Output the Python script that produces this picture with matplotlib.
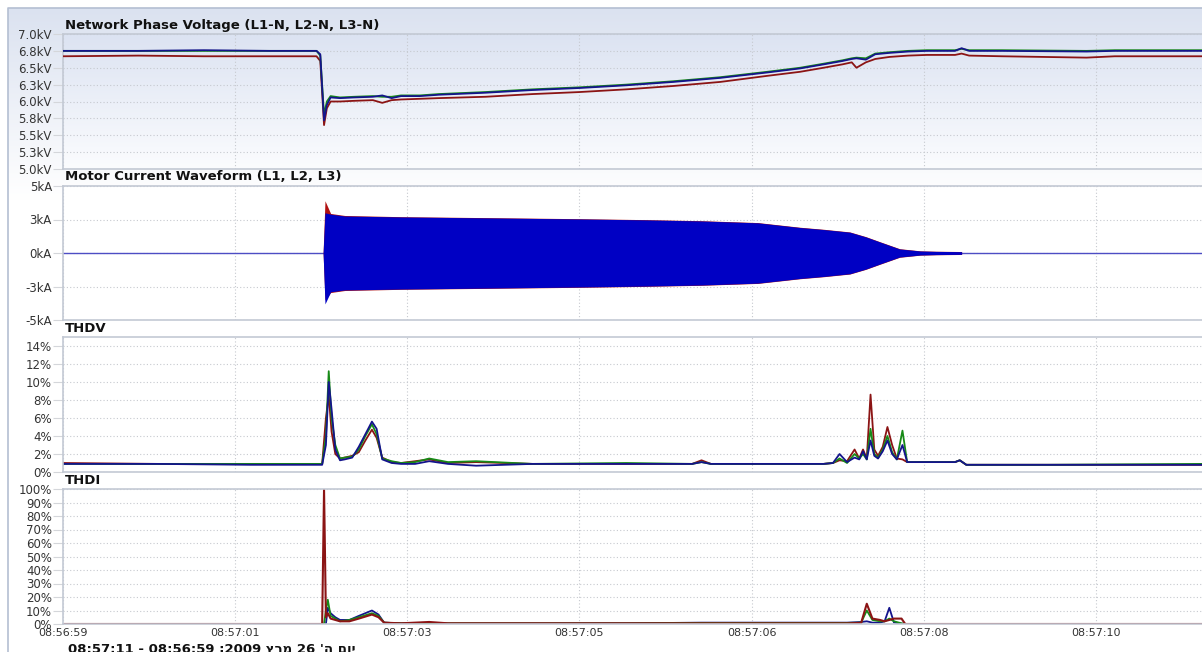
import numpy as np
import matplotlib.pyplot as plt
from matplotlib.colors import LinearSegmentedColormap

W, H = 1202, 652

# x axis: seconds after 08:56:59
time_labels = ['08:56:59', '08:57:01', '08:57:03', '08:57:05', '08:57:06', '08:57:08', '08:57:10']
caption = '08:57:11 - 08:56:59 ;2009 ץרמ 26 \'ה םוי'

# network phase voltage, kV
t_volt = [0.0, 0.8, 1.5, 2.2, 2.70, 2.74, 2.78, 2.81, 2.85, 2.95, 3.10, 3.30, 3.40, 3.50,
          3.60, 3.80, 4.00, 4.50, 5.00, 5.50, 6.00, 6.50, 7.00, 7.50, 7.85, 8.10, 8.30,
          8.40, 8.45, 8.55, 8.65, 8.80, 9.00, 9.20, 9.50, 9.57, 9.65, 10.0, 10.9, 11.2, 12.13]
volt_l1 = [6.67, 6.68, 6.67, 6.67, 6.67, 6.60, 5.65, 5.90, 6.00, 6.00, 6.01, 6.02, 5.98, 6.02,
           6.03, 6.04, 6.05, 6.07, 6.11, 6.14, 6.18, 6.23, 6.29, 6.38, 6.44, 6.50, 6.55,
           6.58, 6.50, 6.58, 6.63, 6.66, 6.68, 6.69, 6.69, 6.71, 6.68, 6.67, 6.65, 6.67, 6.67]
volt_l2 = [6.75, 6.75, 6.75, 6.75, 6.75, 6.68, 5.80, 6.00, 6.08, 6.06, 6.07, 6.08, 6.07, 6.07,
           6.09, 6.09, 6.11, 6.14, 6.18, 6.21, 6.25, 6.30, 6.36, 6.44, 6.50, 6.56, 6.61,
           6.64, 6.65, 6.64, 6.71, 6.73, 6.75, 6.76, 6.76, 6.78, 6.76, 6.76, 6.75, 6.76, 6.76]
volt_l3 = [6.75, 6.75, 6.76, 6.75, 6.75, 6.70, 5.72, 5.95, 6.06, 6.05, 6.06, 6.07, 6.09, 6.05,
           6.08, 6.08, 6.10, 6.13, 6.17, 6.20, 6.24, 6.29, 6.35, 6.43, 6.49, 6.55, 6.60,
           6.63, 6.64, 6.62, 6.70, 6.72, 6.74, 6.75, 6.75, 6.79, 6.75, 6.75, 6.74, 6.75, 6.75]
volt_ticks = [7.0, 6.75, 6.5, 6.25, 6.0, 5.75, 5.5, 5.25, 5.0]
volt_tick_labels = ['7.0kV', '6.8kV', '6.5kV', '6.3kV', '6.0kV', '5.8kV', '5.5kV', '5.3kV', '5.0kV']

# motor current waveform envelope, kA
t_env = [2.77, 2.79, 2.85, 3.0, 3.6, 4.5, 5.5, 6.2, 6.8, 7.4, 7.85, 8.1, 8.38, 8.55,
         8.7, 8.91, 9.13, 9.3, 9.57]
env_red_hi = [0.0, 3.9, 2.95, 2.8, 2.71, 2.64, 2.56, 2.49, 2.41, 2.27, 1.92, 1.77, 1.57,
              1.22, 0.84, 0.32, 0.16, 0.13, 0.11]
env_red_lo = [0.0, -3.5, -2.95, -2.8, -2.71, -2.64, -2.56, -2.49, -2.41, -2.27, -1.92,
              -1.77, -1.57, -1.22, -0.84, -0.32, -0.16, -0.13, -0.11]
env_blue_hi = [0.0, 3.0, 2.9, 2.76, 2.69, 2.62, 2.54, 2.47, 2.39, 2.25, 1.9, 1.75, 1.55,
               1.2, 0.82, 0.3, 0.15, 0.12, 0.10]
env_blue_lo = [0.0, -3.8, -2.9, -2.76, -2.69, -2.62, -2.54, -2.47, -2.39, -2.25, -1.9,
               -1.75, -1.55, -1.2, -0.82, -0.3, -0.15, -0.12, -0.10]
cur_ticks = [5, 2.5, 0, -2.5, -5]
cur_tick_labels = ['5kA', '3kA', '0kA', '-3kA', '-5kA']

# THDV, %
t_thdv = [0.00, 1.00, 2.00, 2.76, 2.80, 2.83, 2.86, 2.90, 2.95, 3.00, 3.08, 3.15, 3.22,
          3.29, 3.34, 3.40, 3.50, 3.60, 3.75, 3.90, 4.10, 4.40, 5.00, 6.00, 6.70, 6.80,
          6.90, 7.50, 8.10, 8.20, 8.27, 8.35, 8.43, 8.48, 8.52, 8.56, 8.60, 8.64, 8.68,
          8.73, 8.78, 8.83, 8.88, 8.94, 8.99, 9.10, 9.50, 9.55, 9.62, 10.50, 12.13]
thdv_l1 = [1.0, 0.9, 0.9, 0.9, 6.0, 8.5, 4.5, 2.0, 1.5, 1.6, 1.8, 2.2, 3.5, 4.7, 3.8, 1.6,
           1.1, 1.0, 1.2, 1.4, 1.0, 1.1, 0.9, 0.9, 0.9, 1.3, 0.9, 0.9, 0.9, 1.0, 1.3, 1.2,
           2.5, 1.5, 2.5, 1.5, 8.6, 2.5, 1.8, 2.8, 5.0, 3.0, 1.5, 1.4, 1.1, 1.1, 1.1, 1.3,
           0.8, 0.8, 0.8]
thdv_l2 = [0.9, 0.9, 0.9, 0.9, 4.0, 11.2, 6.0, 3.0, 1.5, 1.6, 1.7, 2.5, 4.0, 5.3, 4.2, 1.5,
           1.2, 1.0, 1.1, 1.5, 1.1, 1.2, 0.9, 1.0, 0.9, 1.1, 0.9, 0.9, 0.9, 1.0, 1.5, 1.0,
           2.0, 1.5, 2.0, 1.4, 4.8, 2.0, 1.6, 2.5, 4.0, 2.2, 1.4, 4.6, 1.1, 1.1, 1.1, 1.3,
           0.8, 0.8, 0.9]
thdv_l3 = [0.9, 0.9, 0.8, 0.8, 3.0, 10.0, 7.0, 2.5, 1.3, 1.4, 1.6, 2.8, 4.2, 5.6, 4.8, 1.4,
           1.0, 0.9, 0.9, 1.2, 0.9, 0.7, 0.9, 0.9, 0.9, 1.1, 0.9, 0.9, 0.9, 1.0, 2.0, 1.1,
           1.6, 1.4, 2.3, 1.4, 3.5, 1.8, 1.5, 2.3, 3.5, 2.0, 1.4, 3.0, 1.1, 1.1, 1.1, 1.3,
           0.8, 0.8, 0.8]

# THDI, %
t_thdi = [0.00, 2.76, 2.78, 2.80, 2.82, 2.85, 2.90, 2.95, 3.05, 3.15, 3.29, 3.36, 3.42,
          3.60, 3.90, 4.10, 6.00, 6.80, 8.35, 8.50, 8.56, 8.62, 8.70, 8.75, 8.80, 8.85,
          8.93, 8.97, 12.13]
thdi_l1 = [0, 0, 100, 5, 8, 4, 3, 2, 2, 4, 7, 5, 1, 0.5, 1.5, 0.5, 0.5, 0.5, 0.5, 0.8,
           15, 4, 3, 2, 3, 4, 4, 0, 0]
thdi_l2 = [0, 0, 0, 10, 18, 6, 4, 2, 3, 5, 8, 6, 1, 0.5, 0.5, 0.5, 0.5, 0.8, 0.8, 1.0,
           10, 3, 2, 2, 4, 2, 0.5, 0, 0]
thdi_l3 = [0, 0, 0, 0, 12, 8, 5, 3, 3, 6, 10, 7, 1, 0.5, 0.5, 0.3, 0.5, 1.0, 1.0, 1.5,
           2, 1, 1, 2, 12, 1, 0.3, 0, 0]

RED = '#8b1414'
GREEN = '#178a17'
BLUE = '#14148c'
GRID = '#c6c9cf'
FRAME = '#c3c9d4'


def px_axes(fig, left, top, right, bottom):
    return fig.add_axes([left / W, 1 - bottom / H, (right - left) / W, (bottom - top) / H])


def style(ax, title, title_y, show_x=False):
    ax.set_xlim(0, 12.13)
    ax.set_xticks(np.arange(len(time_labels)) * 11 / 6)
    if show_x:
        ax.set_xticklabels(time_labels)
    else:
        ax.set_xticklabels([])
    ax.grid(True, color=GRID, linestyle=(0, (1, 2)), linewidth=0.8)
    ax.set_axisbelow(True)
    for side in ['top', 'bottom', 'left']:
        ax.spines[side].set_color(FRAME)
        ax.spines[side].set_linewidth(1.2)
    ax.spines['right'].set_visible(False)
    ax.tick_params(axis='x', length=0, labelsize=8, labelcolor='#333333', pad=3)
    ax.tick_params(axis='y', length=7, color='#d4d6da', width=0.8, pad=1,
                   labelsize=8.5, labelcolor='#333333')
    fig.text(65 / W, 1 - title_y / H, title, fontsize=9.5, fontweight='bold',
             color='#111111', va='center', ha='left')


fig = plt.figure(figsize=(W / 100, H / 100), dpi=100)

# background of the outer panel
bg = fig.add_axes([0, 0, 1, 1], zorder=-10)
bg_cmap = LinearSegmentedColormap.from_list('bg', ['#dbe2f0', '#ffffff'])
grad = np.linspace(0, 1, 200).reshape(-1, 1)
bg.imshow(grad, cmap=bg_cmap, aspect='auto', extent=[8, W, 200, 8])
bg.set_xlim(0, W)
bg.set_ylim(H, 0)
bg.plot([8, 8, W], [H, 8, 8], color='#b4bfd2', lw=1.2)
bg.axis('off')

# voltage
ax1 = px_axes(fig, 63, 34, W, 169)
vcmap = LinearSegmentedColormap.from_list('v', ['#dce3f2', '#fbfcfe'])
ax1.imshow(grad, cmap=vcmap, aspect='auto', extent=[0, 12.13, 5.0, 7.0], zorder=0)
ax1.plot(t_volt, volt_l1, color=RED, lw=1.3, zorder=3)
ax1.plot(t_volt, volt_l2, color=GREEN, lw=1.3, zorder=3)
ax1.plot(t_volt, volt_l3, color=BLUE, lw=1.3, zorder=4)
ax1.set_ylim(5.0, 7.0)
ax1.set_yticks(volt_ticks)
ax1.set_yticklabels(volt_tick_labels)
style(ax1, 'Network Phase Voltage (L1-N, L2-N, L3-N)', 25)

# current
ax2 = px_axes(fig, 63, 186, W, 320)
ax2.axhline(0, color='#4d4dc4', lw=1.0, zorder=2)
ax2.fill_between(t_env, env_red_lo, env_red_hi, color='#b01010', lw=0, zorder=3)
ax2.fill_between(t_env, env_blue_lo, env_blue_hi, color='#0000c4', lw=0, zorder=4)
ax2.set_ylim(-5, 5)
ax2.set_yticks(cur_ticks)
ax2.set_yticklabels(cur_tick_labels)
style(ax2, 'Motor Current Waveform (L1, L2, L3)', 177)

# THDV
ax3 = px_axes(fig, 63, 337, W, 472)
ax3.plot(t_thdv, thdv_l1, color=RED, lw=1.3)
ax3.plot(t_thdv, thdv_l2, color=GREEN, lw=1.3)
ax3.plot(t_thdv, thdv_l3, color=BLUE, lw=1.3)
ax3.set_ylim(0, 15)
ax3.set_yticks(np.arange(0, 15, 2))
ax3.set_yticklabels(['%d%%' % v for v in np.arange(0, 15, 2)])
style(ax3, 'THDV', 329)

# THDI
ax4 = px_axes(fig, 63, 489, W, 624)
ax4.plot(t_thdi, thdi_l3, color=BLUE, lw=1.3)
ax4.plot(t_thdi, thdi_l2, color=GREEN, lw=1.3)
ax4.plot(t_thdi, thdi_l1, color=RED, lw=1.5)
ax4.set_ylim(0, 100)
ax4.set_yticks(np.arange(0, 101, 10))
ax4.set_yticklabels(['%d%%' % v for v in np.arange(0, 101, 10)])
style(ax4, 'THDI', 481, show_x=True)

fig.text(68 / W, 1 - 643 / H, caption, fontsize=9.5, fontweight='bold',
         color='#111111', va='top', ha='left')

fig.savefig('out.png', dpi=100)
